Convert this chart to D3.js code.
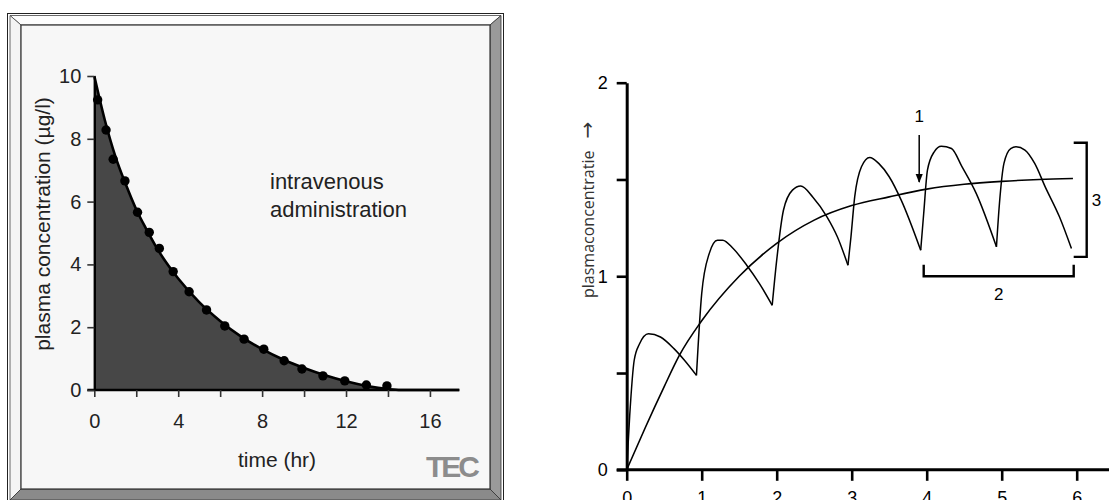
<!DOCTYPE html>
<html>
<head>
<meta charset="utf-8">
<script src="https://cdn.jsdelivr.net/npm/d3@7"></script>
<style>
  body { margin: 0; background: #fff; }
  svg { display: block; }
</style>
</head>
<body>
<script>
// left panel: iv bolus, measured points + fitted decay curve
var ivTimes = [0.16, 0.56, 0.9, 1.46, 2.06, 2.62, 3.1, 3.76, 4.52, 5.35, 6.22, 7.14, 8.08, 9.05, 9.9, 10.9, 11.94, 12.97, 13.95];
var ivConc  = [9.24, 8.28, 7.35, 6.66, 5.66, 5.02, 4.51, 3.77, 3.13, 2.55, 2.04, 1.62, 1.30, 0.93, 0.67, 0.45, 0.29, 0.16, 0.13];
var fitTimes = [0, 0.5, 1, 1.5, 2, 2.5, 3, 4, 5, 6, 7, 8, 9, 10, 11, 12, 13, 14, 14.6, 17.4];
var fitConc  = [10, 8.6, 7.45, 6.55, 5.75, 5.1, 4.5, 3.55, 2.8, 2.2, 1.7, 1.3, 0.97, 0.7, 0.47, 0.28, 0.13, 0.03, 0, 0];
var ivXTicks = [0, 2, 4, 6, 8, 10, 12, 14, 16];
var ivYTicks = [0, 2, 4, 6, 8, 10];

// right panel: repeated dosing vs steady infusion
var steadyTimes = [0, 0.25, 0.5, 0.7, 1, 1.5, 2, 2.5, 3, 3.5, 4, 4.5, 5, 5.5, 5.95];
var steadyConc  = [0, 0.22, 0.43, 0.59, 0.77, 1.0, 1.17, 1.29, 1.365, 1.41, 1.45, 1.475, 1.49, 1.5, 1.505];
var waveTimes = [0, 0.04, 0.10, 0.17, 0.29, 0.45, 0.63, 0.77, 0.93,
  1.0, 1.1, 1.21, 1.28, 1.42, 1.6, 1.77, 1.94,
  2.0, 2.09, 2.21, 2.32, 2.48, 2.67, 2.81, 2.95,
  2.99, 3.04, 3.13, 3.24, 3.36, 3.5, 3.66, 3.92,
  3.96, 4.01, 4.10, 4.195, 4.33, 4.47, 4.66, 4.93,
  4.97, 5.03, 5.12, 5.19, 5.31, 5.44, 5.58, 5.77, 5.93];
var waveConc = [0, 0.28, 0.566, 0.65, 0.703, 0.686, 0.626, 0.566, 0.488,
  0.91, 1.117, 1.186, 1.186, 1.143, 1.057, 0.962, 0.85,
  1.083, 1.341, 1.445, 1.466, 1.41, 1.307, 1.203, 1.057,
  1.203, 1.41, 1.566, 1.614, 1.583, 1.514, 1.393, 1.134,
  1.324, 1.548, 1.643, 1.672, 1.66, 1.566, 1.428, 1.152,
  1.376, 1.583, 1.66, 1.669, 1.652, 1.583, 1.462, 1.307, 1.143];
var troughTimes = [0.93, 1.94, 2.95, 3.92, 4.93];
var doseXTicks = [0, 1, 2, 3, 4, 5, 6];
var doseYTicks = [0, 0.5, 1, 1.5, 2];

var svg = d3.select("body").append("svg")
    .attr("width", 1109)
    .attr("height", 500);

// ---------- left panel frame (bevelled box) ----------
var frame = svg.append("g");
frame.append("rect")
    .attr("x", 7.5).attr("y", 13.5).attr("width", 496).attr("height", 490)
    .attr("fill", "#fff").attr("stroke", "#222");
frame.append("polygon").attr("points", "10,15.5 501,15.5 490,25 21,25").attr("fill", "#fdfdfd").attr("stroke", "#444").attr("stroke-width", 0.8);
frame.append("polygon").attr("points", "10,15.5 21,25 21,489 10,500").attr("fill", "#f4f4f4").attr("stroke", "#444").attr("stroke-width", 0.8);
frame.append("polygon").attr("points", "501,15.5 501,500 490,489 490,25").attr("fill", "#9a9a9a").attr("stroke", "#333").attr("stroke-width", 0.8);
frame.append("polygon").attr("points", "10,500 21,489 490,489 501,500").attr("fill", "#8a8a8a").attr("stroke", "#333").attr("stroke-width", 0.8);
frame.append("rect")
    .attr("x", 21).attr("y", 25).attr("width", 469).attr("height", 464)
    .attr("fill", "#f7f7f7").attr("stroke", "#333").attr("stroke-width", 1.2);

// ---------- left chart ----------
var xL = d3.scaleLinear().domain([0, 17.4]).range([94.3, 459.3]);
var yL = d3.scaleLinear().domain([0, 10]).range([390, 76]);

var left = svg.append("g").attr("font-family", "Liberation Sans, Arial, sans-serif");

var fit = fitTimes.map(function(t, i) { return [t, fitConc[i]]; });

left.append("path")
    .datum(fit)
    .attr("fill", "#474747")
    .attr("d", d3.area()
        .x(function(d) { return xL(d[0]); })
        .y0(yL(0))
        .y1(function(d) { return yL(d[1]); })
        .curve(d3.curveMonotoneX));

left.append("path")
    .datum(fit)
    .attr("fill", "none")
    .attr("stroke", "#000")
    .attr("stroke-width", 2.6)
    .attr("d", d3.line()
        .x(function(d) { return xL(d[0]); })
        .y(function(d) { return yL(d[1]); })
        .curve(d3.curveMonotoneX));

left.append("g")
    .selectAll("circle")
    .data(ivTimes)
    .enter().append("circle")
    .attr("cx", function(d) { return xL(d); })
    .attr("cy", function(d, i) { return yL(ivConc[i]); })
    .attr("r", 4.7)
    .attr("fill", "#000");

// x-axis
var axL = left.append("g")
    .attr("transform", "translate(0," + yL(0) + ")")
    .call(d3.axisBottom(xL).tickValues(ivXTicks).tickSize(7).tickPadding(17).tickSizeOuter(0)
        .tickFormat(function(d) { return d % 4 === 0 ? d : ""; }));
axL.select(".domain").attr("stroke-width", 2.4).attr("d", "M" + (xL(0) - 7) + ",0H" + xL(17.4));
axL.selectAll(".tick line").attr("stroke", "#333").attr("stroke-width", 1.6);
axL.selectAll("text").attr("font-size", 20).attr("fill", "#222").attr("font-family", "Liberation Sans, Arial, sans-serif");

// y-axis
var ayL = left.append("g")
    .attr("transform", "translate(" + xL(0) + ",0)")
    .call(d3.axisLeft(yL).tickValues(ivYTicks).tickSize(7).tickPadding(6).tickSizeOuter(0));
ayL.select(".domain").attr("stroke-width", 2.4);
ayL.selectAll(".tick line").attr("stroke", "#333").attr("stroke-width", 1.6);
ayL.selectAll("text").attr("font-size", 20).attr("fill", "#222").attr("font-family", "Liberation Sans, Arial, sans-serif");

left.append("text")
    .attr("transform", "translate(50,224) rotate(-90)")
    .attr("text-anchor", "middle")
    .attr("font-size", 21)
    .attr("fill", "#222")
    .text("plasma concentration (µg/l)");

left.append("text")
    .attr("x", 277).attr("y", 467)
    .attr("text-anchor", "middle")
    .attr("font-size", 21)
    .attr("fill", "#222")
    .text("time (hr)");

left.append("text")
    .attr("x", 270).attr("y", 189)
    .attr("font-size", 22)
    .attr("fill", "#222")
    .text("intravenous");
left.append("text")
    .attr("x", 270).attr("y", 217)
    .attr("font-size", 22)
    .attr("fill", "#222")
    .text("administration");

// logo
left.append("text")
    .attr("x", 426).attr("y", 477)
    .attr("font-size", 30)
    .attr("font-weight", "bold")
    .attr("letter-spacing", -3)
    .attr("fill", "#8c8c8c")
    .text("TEC");

// ---------- right chart ----------
var xR = d3.scaleLinear().domain([0, 6]).range([626.7, 1076.7]);
var yR = d3.scaleLinear().domain([0, 2]).range([469.8, 82.7]);

var right = svg.append("g").attr("font-family", "Liberation Sans, Arial, sans-serif");

var lineR = d3.line()
    .x(function(d) { return xR(d[0]); })
    .y(function(d) { return yR(d[1]); })
    .curve(d3.curveMonotoneX);

right.append("path")
    .datum(steadyTimes.map(function(t, i) { return [t, steadyConc[i]]; }))
    .attr("fill", "none")
    .attr("stroke", "#000")
    .attr("stroke-width", 1.6)
    .attr("d", lineR);

// one piece per dosing interval, so the troughs stay sharp
var cuts = [0].concat(troughTimes).concat([waveTimes[waveTimes.length - 1]]);
var pieces = [];
for (var k = 0; k < cuts.length - 1; k++) {
    var seg = [];
    waveTimes.forEach(function(t, i) {
        if (t >= cuts[k] && t <= cuts[k + 1]) seg.push([t, waveConc[i]]);
    });
    pieces.push(seg);
}

right.append("g")
    .selectAll("path")
    .data(pieces)
    .enter().append("path")
    .attr("fill", "none")
    .attr("stroke", "#000")
    .attr("stroke-width", 1.5)
    .attr("d", lineR);

// x-axis
var axR = right.append("g")
    .attr("transform", "translate(0," + yR(0) + ")")
    .call(d3.axisBottom(xR).tickValues(doseXTicks).tickSize(11).tickPadding(10).tickSizeOuter(0)
        .tickFormat(d3.format("d")));
axR.select(".domain").attr("stroke-width", 3).attr("d", "M" + (xR(0) - 10) + ",0H1109");
axR.selectAll(".tick line").attr("stroke-width", 2.6);
axR.selectAll("text").attr("font-size", 18).attr("fill", "#000").attr("font-family", "Liberation Sans, Arial, sans-serif");

// y-axis
var ayR = right.append("g")
    .attr("transform", "translate(" + xR(0) + ",0)")
    .call(d3.axisLeft(yR).tickValues(doseYTicks).tickSize(10).tickPadding(9).tickSizeOuter(0)
        .tickFormat(function(d) { return d % 1 === 0 ? d : ""; }));
ayR.select(".domain").attr("stroke-width", 3);
ayR.selectAll(".tick line").attr("stroke-width", 2.6);
ayR.selectAll("text").attr("font-size", 18).attr("fill", "#000").attr("font-family", "Liberation Sans, Arial, sans-serif");

var yTitle = right.append("text")
    .attr("transform", "translate(594,298) rotate(-90)")
    .attr("font-family", "Open Sans, sans-serif")
    .attr("font-size", 16)
    .attr("fill", "#333");
yTitle.append("tspan").text("plasmaconcentratie");
yTitle.append("tspan")
    .attr("dx", 12)
    .attr("font-family", "DejaVu Sans, sans-serif")
    .attr("font-size", 20)
    .text("\u2192");

// annotation 1: arrow
svg.append("defs").append("marker")
    .attr("id", "head")
    .attr("viewBox", "0 0 10 10")
    .attr("refX", 9).attr("refY", 5)
    .attr("markerWidth", 6).attr("markerHeight", 6)
    .attr("orient", "auto")
    .append("path").attr("d", "M0,1L10,5L0,9Z").attr("fill", "#000");

right.append("text")
    .attr("x", xR(3.9)).attr("y", 122)
    .attr("text-anchor", "middle")
    .attr("font-size", 17)
    .text("1");
right.append("line")
    .attr("x1", xR(3.9)).attr("x2", xR(3.9))
    .attr("y1", 135).attr("y2", 182)
    .attr("stroke", "#000").attr("stroke-width", 1.5)
    .attr("marker-end", "url(#head)");

// annotation 2: dosing interval bracket
right.append("path")
    .attr("d", "M" + xR(3.96) + "," + (yR(1.06)) + "V" + yR(1) + "H" + xR(5.96) + "V" + yR(1.06))
    .attr("fill", "none").attr("stroke", "#000").attr("stroke-width", 2.4);
right.append("text")
    .attr("x", xR(4.96)).attr("y", 300)
    .attr("text-anchor", "middle")
    .attr("font-size", 17)
    .text("2");

// annotation 3: fluctuation bracket
right.append("path")
    .attr("d", "M" + xR(5.96) + "," + yR(1.69) + "H" + (xR(5.96) + 13) + "V" + yR(1.1) + "H" + xR(5.96))
    .attr("fill", "none").attr("stroke", "#000").attr("stroke-width", 2.4);
right.append("text")
    .attr("x", xR(5.96) + 18).attr("y", 206)
    .attr("font-size", 17)
    .text("3");
</script>
</body>
</html>
